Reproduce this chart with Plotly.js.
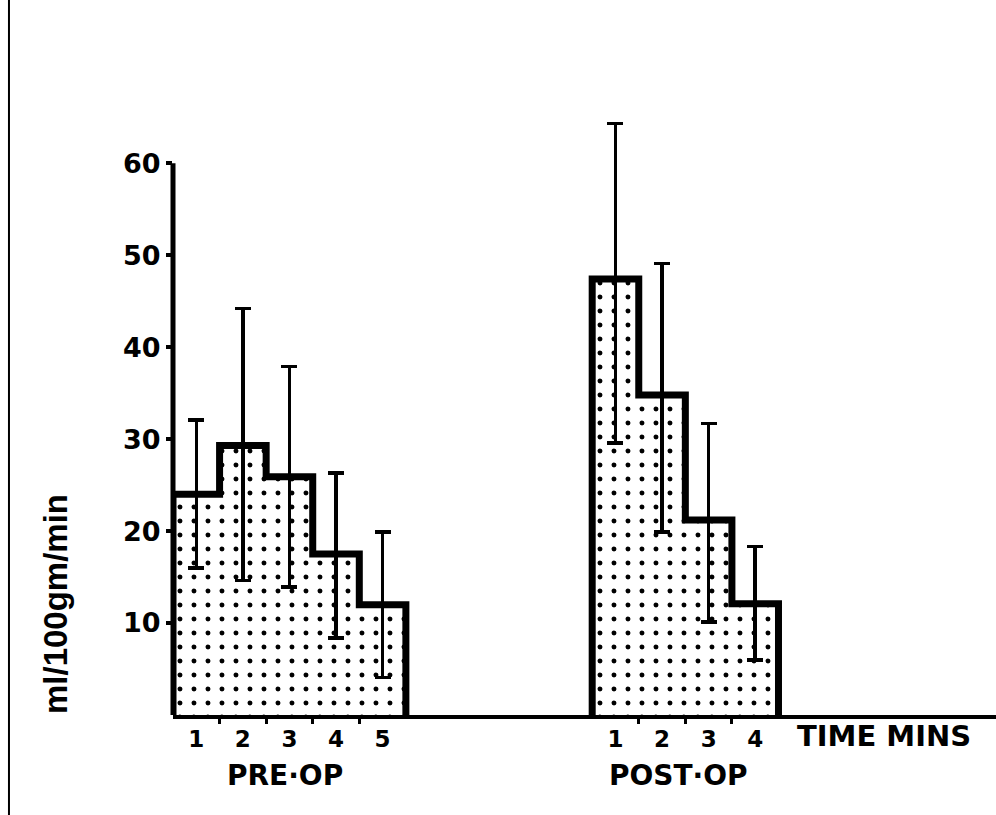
<!DOCTYPE html>
<html><head><meta charset="utf-8">
<script src="https://cdn.plot.ly/plotly-3.0.1.min.js"></script>
<style>html,body{margin:0;padding:0;background:#fff}</style>
</head><body><div id="chart" style="width:996px;height:815px"></div>
<script>
// ---- data ----
const preMinutes = ['1', '2', '3', '4', '5'];
const preFlow = [24.0, 29.3, 25.9, 17.5, 12.0];
const preErrPlus = [8.1, 14.9, 12.0, 8.8, 7.9];
const preErrMinus = [8.0, 14.7, 12.0, 9.1, 7.9];

const postMinutes = ['1', '2', '3', '4'];
const postFlow = [47.4, 34.8, 21.2, 12.1];
const postErrPlus = [16.9, 14.3, 10.5, 6.2];
const postErrMinus = [17.8, 14.9, 11.1, 6.1];

const yTickValues = [10, 20, 30, 40, 50, 60];
const groupLabels = ['PRE·OP', 'POST·OP'];
const xAxisLabel = 'TIME MINS';
const yAxisLabel = 'ml/100gm/min';

// ---- layout helpers ----
const POST_START = 10;
const preX = preMinutes.map((m, i) => 1 + i);
const postX = postMinutes.map((m, i) => POST_START + i);

function stepOutline(xs, ys) {
  const px = [xs[0] - 0.5], py = [0];
  xs.forEach((x, i) => { px.push(x - 0.5, x + 0.5); py.push(ys[i], ys[i]); });
  px.push(xs[xs.length - 1] + 0.5); py.push(0);
  return { px, py };
}

const pattern = { shape: '.', fgcolor: 'black', bgcolor: 'white', size: 14, solidity: 0.1 };
const errStyle = { type: 'data', symmetric: false, color: 'black', thickness: 3.5, width: 8 };

function barTrace(xs, ys, plus, minus) {
  return {
    type: 'bar', x: xs, y: ys, width: xs.map(() => 1),
    marker: { color: 'white', line: { width: 0 }, pattern: pattern },
    error_y: Object.assign({ array: plus, arrayminus: minus }, errStyle),
    hoverinfo: 'skip', showlegend: false
  };
}
function outlineTrace(xs, ys) {
  const o = stepOutline(xs, ys);
  return {
    type: 'scatter', mode: 'lines', x: o.px, y: o.py,
    line: { color: 'black', width: 7 }, cliponaxis: false,
    hoverinfo: 'skip', showlegend: false
  };
}

const traces = [
  barTrace(preX, preFlow, preErrPlus, preErrMinus),
  barTrace(postX, postFlow, postErrPlus, postErrMinus),
  outlineTrace(preX, preFlow),
  outlineTrace(postX, postFlow)
];

const boundaries = preX.slice(1).map(x => x - 0.5).concat(postX.slice(1).map(x => x - 0.5));
const mean = a => a.reduce((s, v) => s + v, 0) / a.length;

const bold = { family: 'DejaVu Sans', weight: 'bold', color: 'black' };

const layout = {
  width: 996, height: 815,
  margin: { l: 173, r: 0, t: 108, b: 100, pad: 0 },
  paper_bgcolor: 'white', plot_bgcolor: 'white',
  barmode: 'overlay', bargap: 0,
  xaxis: {
    range: [0.5, 18.17], showgrid: false, zeroline: false,
    showline: true, linecolor: 'black', linewidth: 4,
    tickmode: 'array', tickvals: preX.concat(postX), ticktext: preMinutes.concat(postMinutes),
    ticks: '', ticklabelstandoff: 0,
    tickfont: Object.assign({ size: 23 }, bold),
    minor: { tickmode: 'array', tickvals: boundaries, ticks: 'outside', ticklen: 5, tickwidth: 3, tickcolor: 'black', showgrid: false }
  },
  yaxis: {
    range: [0, 66], showgrid: false, zeroline: false, showline: false,
    tickmode: 'array', tickvals: yTickValues, ticktext: yTickValues.map(String),
    ticks: 'outside', ticklen: 6, tickwidth: 4, tickcolor: 'black',
    tickfont: Object.assign({ size: 27 }, bold)
  },
  shapes: [
    { type: 'line', xref: 'paper', yref: 'y', x0: 0, x1: 0, y0: 0, y1: yTickValues[yTickValues.length - 1],
      line: { color: 'black', width: 5 }, layer: 'above' },
    { type: 'line', xref: 'paper', yref: 'paper', x0: -0.1993, x1: -0.1993, y0: -0.165, y1: 1.178,
      line: { color: 'black', width: 2 }, layer: 'above' }
  ],
  annotations: [
    { text: groupLabels[0], xref: 'x', yref: 'paper', x: mean(preX), y: 0, xshift: -4, yshift: -60,
      xanchor: 'center', yanchor: 'middle', showarrow: false, font: Object.assign({ size: 28 }, bold) },
    { text: groupLabels[1], xref: 'x', yref: 'paper', x: mean(postX), y: 0, xshift: -7, yshift: -60,
      xanchor: 'center', yanchor: 'middle', showarrow: false, font: Object.assign({ size: 28 }, bold) },
    { text: xAxisLabel, xref: 'paper', yref: 'paper', x: 0.864, y: 0, yshift: -21,
      xanchor: 'center', yanchor: 'middle', showarrow: false, font: Object.assign({ size: 29 }, bold) },
    { text: yAxisLabel, xref: 'paper', yref: 'paper', x: -0.142, y: 0.183, textangle: -90,
      xanchor: 'center', yanchor: 'middle', showarrow: false,
      font: { family: 'Liberation Sans', weight: 'bold', size: 33, color: 'black' } }
  ]
};

Plotly.newPlot('chart', traces, layout, { staticPlot: true, displayModeBar: false });
</script>
</body></html>
